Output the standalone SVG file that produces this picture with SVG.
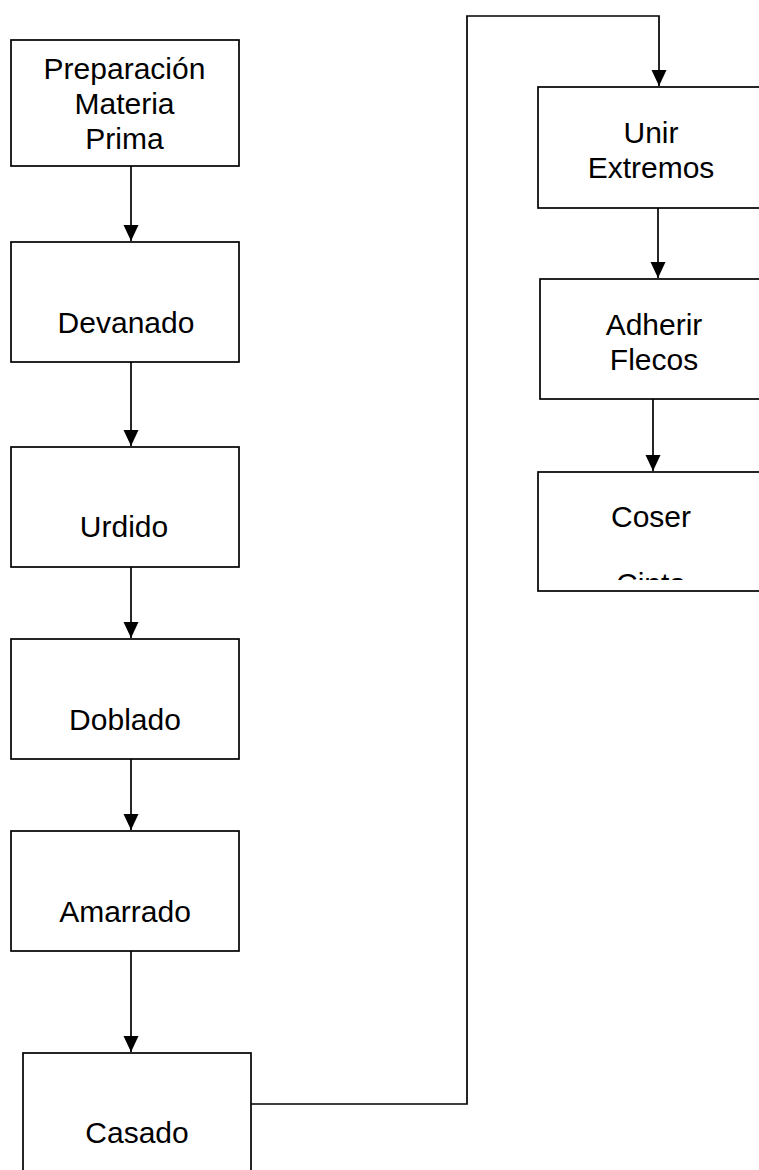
<svg xmlns="http://www.w3.org/2000/svg" width="759" height="1170" viewBox="0 0 759 1170">
<style>
.box{fill:#fff;stroke:#000;stroke-width:1.7}
.lbl{font-family:"Liberation Sans",Arial,sans-serif;font-size:30px;fill:#000;text-anchor:middle}
.con{fill:none;stroke:#000;stroke-width:1.7}
</style>
<defs>
<marker id="ah" markerUnits="userSpaceOnUse" markerWidth="18" markerHeight="18" refX="16" refY="7.5" orient="auto">
<path d="M0,0 L16,7.5 L0,15 Z" fill="#000"/>
</marker>
<clipPath id="clipCoser"><rect x="538" y="472" width="240" height="108"/></clipPath>
</defs>
<g id="connectors">
<line class="con" x1="131" y1="166" x2="131" y2="241" marker-end="url(#ah)"/>
<line class="con" x1="131" y1="362" x2="131" y2="446" marker-end="url(#ah)"/>
<line class="con" x1="131" y1="567" x2="131" y2="638" marker-end="url(#ah)"/>
<line class="con" x1="131" y1="759" x2="131" y2="830" marker-end="url(#ah)"/>
<line class="con" x1="131" y1="951" x2="131" y2="1052" marker-end="url(#ah)"/>
<polyline class="con" points="251,1104 467,1104 467,16 659,16 659,86" marker-end="url(#ah)"/>
<line class="con" x1="658" y1="208" x2="658" y2="278" marker-end="url(#ah)"/>
<line class="con" x1="653" y1="399" x2="653" y2="471" marker-end="url(#ah)"/>
</g>
<g id="n1">
<rect class="box" x="11" y="40" width="228" height="126"/>
<text class="lbl" x="124.5" y="79">Preparación</text>
<text class="lbl" x="124.5" y="114">Materia</text>
<text class="lbl" x="124.5" y="149">Prima</text>
</g>
<g id="n2">
<rect class="box" x="11" y="242" width="228" height="120"/>
<text class="lbl" x="126" y="333">Devanado</text>
</g>
<g id="n3">
<rect class="box" x="11" y="447" width="228" height="120"/>
<text class="lbl" x="124" y="537">Urdido</text>
</g>
<g id="n4">
<rect class="box" x="11" y="639" width="228" height="120"/>
<text class="lbl" x="125" y="730">Doblado</text>
</g>
<g id="n5">
<rect class="box" x="11" y="831" width="228" height="120"/>
<text class="lbl" x="125" y="922">Amarrado</text>
</g>
<g id="n6">
<rect class="box" x="23" y="1053" width="228" height="140"/>
<text class="lbl" x="137" y="1143">Casado</text>
</g>
<g id="n7">
<rect class="box" x="538" y="87" width="228" height="121"/>
<text class="lbl" x="651" y="143">Unir</text>
<text class="lbl" x="651" y="178">Extremos</text>
</g>
<g id="n8">
<rect class="box" x="540" y="279" width="228" height="120"/>
<text class="lbl" x="654" y="335">Adherir</text>
<text class="lbl" x="654" y="370">Flecos</text>
</g>
<g id="n9">
<rect class="box" x="538" y="472" width="228" height="119"/>
<text class="lbl" x="651" y="527">Coser</text>
<text class="lbl" x="651" y="594" clip-path="url(#clipCoser)">Cinta</text>
</g>
</svg>
